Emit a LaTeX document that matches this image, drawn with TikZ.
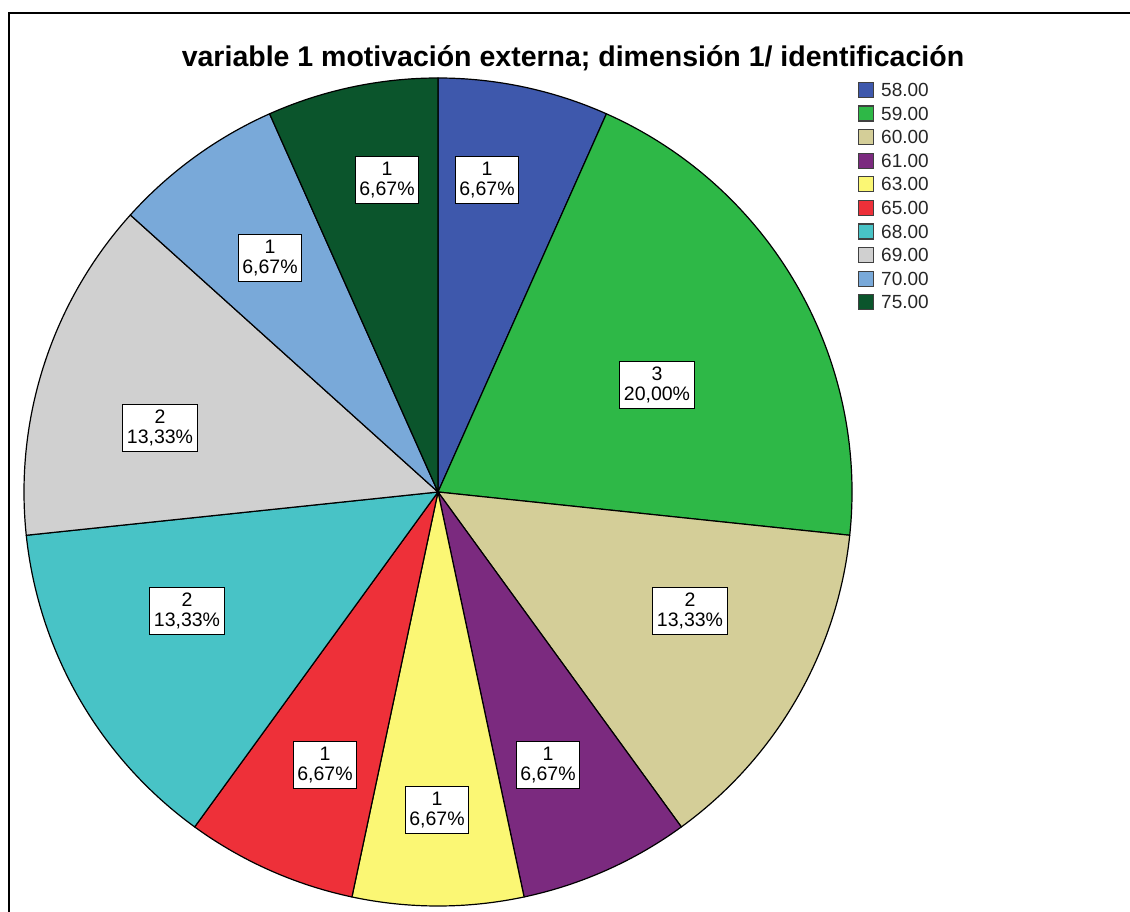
\documentclass[tikz,border=0pt]{standalone}
\usepackage{fontspec}
\setmainfont{Liberation Sans}
\definecolor{c58}{HTML}{3E58AC}
\definecolor{c59}{HTML}{2EB847}
\definecolor{c60}{HTML}{D4CE98}
\definecolor{c61}{HTML}{7B2A7F}
\definecolor{c63}{HTML}{FBF774}
\definecolor{c65}{HTML}{EE3039}
\definecolor{c68}{HTML}{48C3C6}
\definecolor{c69}{HTML}{D0D0D0}
\definecolor{c70}{HTML}{79A9D9}
\definecolor{c75}{HTML}{0B552C}
\tikzset{
  slice/.style={draw=black,line width=1.2pt,line join=round},
  lbl/.style={draw=black,fill=white,line width=1.1pt,align=center,inner xsep=4pt,inner ysep=5pt,
    font=\fontsize{19.5}{20.5}\selectfont},
  legsq/.style={draw=black!75,line width=1.2pt,minimum size=15pt,inner sep=0pt},
  legtxt/.style={anchor=west,inner sep=0pt,font=\fontsize{19}{19}\selectfont,text=black!85},
}
\begin{document}
\begin{tikzpicture}[x=1pt,y=1pt]
\useasboundingbox (0,0) rectangle (1130,911);
\begin{scope}
\clip (0,0) rectangle (1130,911);
\draw[line width=2.6pt] (9,-10) -- (9,898) -- (1140,898);
\end{scope}
\node[font=\bfseries\fontsize{28.5}{30}\selectfont] (title) at (573,853) {variable 1 motivación externa; dimensión 1/ identificación};
\coordinate (C) at (438,419);
\def\R{414}
\foreach \a/\b/\c in {66/90/c58,-6/66/c59,-54/-6/c60,-78/-54/c61,-102/-78/c63,-126/-102/c65,-174/-126/c68,138/186/c69,114/138/c70,90/114/c75}{
  \filldraw[slice,fill=\c] (C) -- +(\a:\R) arc[start angle=\a,end angle=\b,radius=\R] -- cycle;
}
\node[lbl] (l75) at (387,731) {1\\6,67\%};
\node[lbl] (l58) at (487,731) {1\\6,67\%};
\node[lbl] (l59) at (657,526) {3\\20,00\%};
\node[lbl] (l60) at (690,300) {2\\13,33\%};
\node[lbl] (l61) at (548,146) {1\\6,67\%};
\node[lbl] (l63) at (437,101) {1\\6,67\%};
\node[lbl] (l65) at (325,146) {1\\6,67\%};
\node[lbl] (l68) at (187,300) {2\\13,33\%};
\node[lbl] (l69) at (160,483) {2\\13,33\%};
\node[lbl] (l70) at (270,653) {1\\6,67\%};
\foreach \i/\n in {0/58,1/59,2/60,3/61,4/63,5/65,6/68,7/69,8/70,9/75}{
  \node[legsq,fill=c\n] (sq\n) at (866,{911-90-23.6*\i}) {};
  \node[legtxt] (lt\n) at (881,{911-90-23.6*\i}) {\n.00};
}
\end{tikzpicture}
\end{document}
